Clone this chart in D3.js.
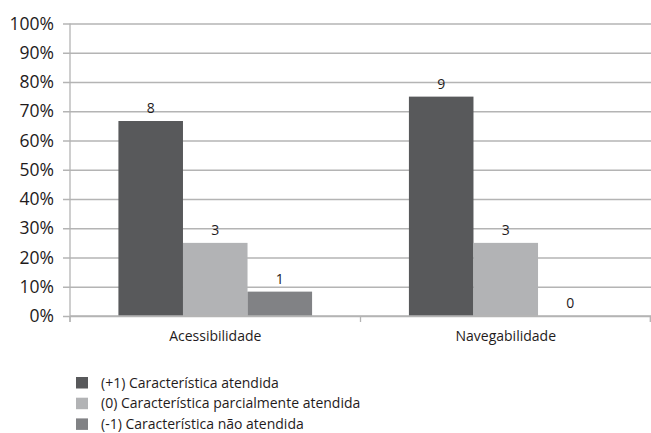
<!DOCTYPE html>
<html>
<head>
<meta charset="utf-8">
<script src="https://cdn.jsdelivr.net/npm/d3@7"></script>
<style>
  html, body { margin: 0; padding: 0; background: #fff; }
  svg { display: block; font-family: "Open Sans", sans-serif; }
</style>
</head>
<body>
<svg id="chart" width="651" height="433"></svg>
<script>
// Categories, series and counts (out of 12 evaluated items)
const categories = ["Acessibilidade", "Navegabilidade"];
const seriesNames = [
  "(+1) Característica atendida",
  "(0) Característica parcialmente atendida",
  "(-1) Característica não atendida"
];
const countsAtendida = [8, 9];
const countsParcial = [3, 3];
const countsNaoAtendida = [1, 0];
const totalItems = 12;
const yTicks = [0, 0.1, 0.2, 0.3, 0.4, 0.5, 0.6, 0.7, 0.8, 0.9, 1.0];
const seriesColors = ["#58595b", "#b2b3b5", "#818285"];

const seriesCounts = [countsAtendida, countsParcial, countsNaoAtendida];

const svg = d3.select("#chart");
const margin = { left: 70, right: 0, top: 23.5, bottom: 117 };
const W = 651, H = 433;
const plotBottom = 316;

const x0 = d3.scaleBand()
  .domain(categories)
  .range([margin.left, W - margin.right])
  .paddingInner(0)
  .paddingOuter(0);

const x1 = d3.scaleBand()
  .domain(d3.range(seriesNames.length))
  .range([0, x0.bandwidth()])
  .paddingOuter(0.75)
  .paddingInner(0);

const y = d3.scaleLinear().domain([0, 1]).range([plotBottom, margin.top]);

const textColor = "#1f1b1c";
const gridColor = "#b4b4b4";

// Horizontal gridlines with short outward ticks
const yAxis = d3.axisLeft(y)
  .tickValues(yTicks)
  .tickFormat(d3.format(".0%"))
  .tickSize(-(W - margin.left - margin.right))
  .tickPadding(16);

const gy = svg.append("g")
  .attr("transform", `translate(${margin.left},0)`)
  .call(yAxis);
gy.select(".domain").remove();
gy.selectAll(".tick line")
  .attr("x1", -7)
  .attr("stroke", gridColor)
  .attr("stroke-width", 1.3);
gy.selectAll(".tick text")
  .attr("fill", textColor)
  .attr("font-size", "17.5px")
  .attr("font-family", "'Open Sans', sans-serif");

// Vertical axis line
svg.append("line")
  .attr("x1", margin.left).attr("x2", margin.left)
  .attr("y1", y(1)).attr("y2", plotBottom + 6)
  .attr("stroke", gridColor).attr("stroke-width", 1.3);

// Bars
const groups = svg.append("g").selectAll("g")
  .data(categories)
  .join("g")
  .attr("transform", d => `translate(${x0(d)},0)`);

groups.selectAll("rect")
  .data((c, ci) => seriesCounts.map((arr, si) => ({ si, v: arr[ci] })))
  .join("rect")
  .attr("x", d => x1(d.si))
  .attr("width", x1.bandwidth())
  .attr("y", d => y(d.v / totalItems))
  .attr("height", d => plotBottom - y(d.v / totalItems))
  .attr("fill", d => seriesColors[d.si]);

// Value labels (counts)
groups.selectAll("text.val")
  .data((c, ci) => seriesCounts.map((arr, si) => ({ si, v: arr[ci] })))
  .join("text")
  .attr("class", "val")
  .attr("x", d => x1(d.si) + x1.bandwidth() / 2)
  .attr("y", d => y(d.v / totalItems) - 8)
  .attr("text-anchor", "middle")
  .attr("font-size", "14px")
  .attr("fill", textColor)
  .text(d => d.v);

// Category axis
const xAxis = d3.axisBottom(x0).tickSize(0).tickPadding(15);
const gx = svg.append("g")
  .attr("transform", `translate(0,${plotBottom})`)
  .call(xAxis);
gx.select(".domain").remove();
gx.selectAll(".tick text")
  .attr("fill", textColor)
  .attr("font-size", "14px")
  .attr("font-family", "'Open Sans', sans-serif");

// Baseline and category separators
svg.append("line")
  .attr("x1", margin.left).attr("x2", W)
  .attr("y1", plotBottom).attr("y2", plotBottom)
  .attr("stroke", gridColor).attr("stroke-width", 1.3);
const sepPositions = categories.map(c => x0(c)).concat([x0(categories[categories.length - 1]) + x0.bandwidth()]);
svg.append("g").selectAll("line")
  .data(sepPositions)
  .join("line")
  .attr("x1", d => Math.min(d, W - 0.7)).attr("x2", d => Math.min(d, W - 0.7))
  .attr("y1", plotBottom).attr("y2", plotBottom + 6)
  .attr("stroke", gridColor).attr("stroke-width", 1.3);

// Legend
const legend = svg.append("g").attr("transform", "translate(76,377)");
const items = legend.selectAll("g")
  .data(seriesNames)
  .join("g")
  .attr("transform", (d, i) => `translate(0,${i * 20.7})`);
items.append("rect")
  .attr("width", 12).attr("height", 11.5)
  .attr("fill", (d, i) => seriesColors[i]);
items.append("text")
  .attr("x", 25)
  .attr("y", 10.5)
  .attr("font-size", "14px")
  .attr("fill", textColor)
  .text(d => d);
</script>
</body>
</html>
